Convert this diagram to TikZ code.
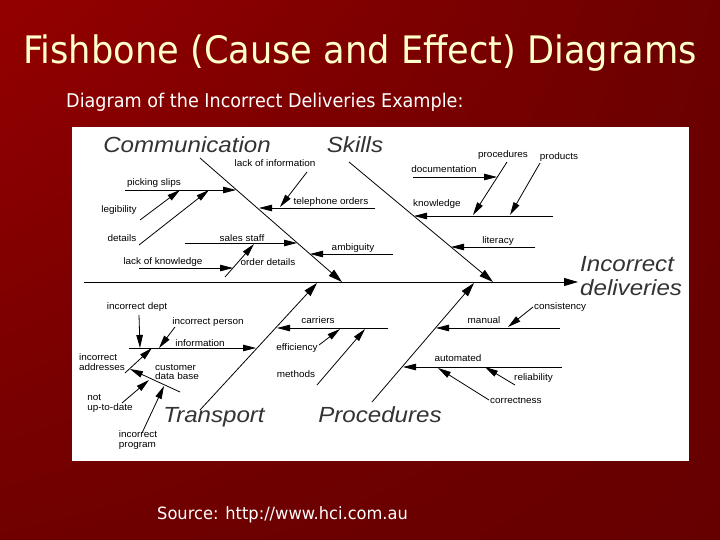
\documentclass[tikz,border=0pt]{standalone}
\usepackage{fontspec}
\setmainfont{Liberation Sans}
\newfontfamily\tahoma[FakeStretch=0.93]{DejaVu Sans}
\newfontfamily\tahomab[FakeStretch=0.96]{DejaVu Sans}
\newfontfamily\labfont[FakeStretch=1.05]{Liberation Sans}
\newfontfamily\catfont[FakeStretch=1.1]{Liberation Sans}
\usetikzlibrary{arrows.meta,shadings}
\definecolor{bgA}{RGB}{148,0,0}
\definecolor{bgB}{RGB}{108,0,0}
\definecolor{bgC}{RGB}{112,0,0}
\definecolor{bgD}{RGB}{102,0,0}
\definecolor{titlecol}{RGB}{255,255,204}
\begin{document}
\begin{tikzpicture}[x=1bp,y=-1bp,
  lbl/.style={font=\labfont\fontsize{9.5}{10}\selectfont, inner sep=0pt, align=left},
  cat/.style={font=\catfont\fontsize{22}{24}\selectfont\itshape, inner sep=0pt, text=black!80, align=left},
  bone/.style={line width=0.8bp, -{Triangle[length=14bp,width=8bp]}},
  arr/.style={line width=0.8bp, -{Triangle[length=13bp,width=6.5bp]}},
]
\useasboundingbox (0,0) rectangle (720,540);
\shade[upper left=bgA, upper right=bgB, lower left=bgC, lower right=bgD] (0,0) rectangle (720,540);

\node[font=\tahoma\fontsize{38}{40}\selectfont, text=titlecol, inner sep=0pt] (title) at (360,53) {Fishbone (Cause and Effect) Diagrams};
\node[font=\tahoma\fontsize{19}{21}\selectfont, text=white, anchor=west, inner sep=0pt] (sub) at (66,102) {Diagram of the Incorrect Deliveries Example:};
\node[fill=white, anchor=north west, minimum width=617bp, minimum height=334bp, inner sep=0pt] (panel) at (72,127) {};
\node[font=\tahomab\fontsize{17}{18}\selectfont, text=white, anchor=west, inner sep=0pt] (src) at (157,515) {Source: http://www.hci.com.au};

% spine and main bones
\coordinate (sp0) at (84,282); \coordinate (sp1) at (578,282);
\draw[bone] (sp0) -- (sp1);
\coordinate (cb0) at (200,158); \coordinate (cb1) at (342,282);
\coordinate (sb0) at (349,162); \coordinate (sb1) at (493,282);
\coordinate (tb0) at (200,410); \coordinate (tb1) at (317,283);
\coordinate (pb0) at (372,402); \coordinate (pb1) at (474,283);
\draw[bone] (cb0) -- (cb1);
\draw[bone] (sb0) -- (sb1);
\draw[bone] (tb0) -- (tb1);
\draw[bone] (pb0) -- (pb1);

% category labels
\node[cat] (communication) at (187,145) {Communication};
\node[cat] (skills) at (355,145) {Skills};
\node[cat] (transport) at (214,417) {Transport};
\node[cat] (procedures) at (380,415) {Procedures};
\node[cat, anchor=north west] (effect) at (580,256) {Incorrect\\deliveries};

% Communication causes
\node[lbl] (tpick) at (154,183) {picking slips};
\coordinate (a1) at (125,190); \coordinate (a2) at (236,190);
\draw[arr] (a1) -- (a2);
\node[lbl] (tleg) at (119,210) {legibility};
\coordinate (a3) at (140,220); \coordinate (a4) at (180,190);
\draw[arr] (a3) -- (a4);
\node[lbl] (tdet) at (122,238) {details};
\coordinate (a5) at (139,245); \coordinate (a6) at (209,190);
\draw[arr] (a5) -- (a6);
\node[lbl] (tlack) at (275,163) {lack of information};
\coordinate (a7) at (307,172); \coordinate (a8) at (280,207);
\draw[arr] (a7) -- (a8);
\node[lbl] (ttel) at (331,202) {telephone orders};
\coordinate (a9) at (375,208); \coordinate (a10) at (259,208);
\draw[arr] (a9) -- (a10);
\node[lbl] (tsales) at (242,238) {sales staff};
\coordinate (a11) at (185,243); \coordinate (a12) at (297,243);
\draw[arr] (a11) -- (a12);
\node[lbl] (tamb) at (353,248) {ambiguity};
\coordinate (a13) at (393,254); \coordinate (a14) at (310,254);
\draw[arr] (a13) -- (a14);
\node[lbl] (tlok) at (163,262) {lack of knowledge};
\coordinate (a15) at (139,268); \coordinate (a16) at (233,268);
\draw[arr] (a15) -- (a16);
\node[lbl] (tord) at (268,262) {order details};
\coordinate (a17) at (225,277); \coordinate (a18) at (254,244);
\draw[arr] (a17) -- (a18);

% Skills causes
\node[lbl] (tdoc) at (444,169) {documentation};
\coordinate (b1) at (413,177); \coordinate (b2) at (497,177);
\draw[arr] (b1) -- (b2);
\node[lbl] (tproc) at (503,155) {procedures};
\coordinate (b3) at (507,162); \coordinate (b4) at (473,215);
\draw[arr] (b3) -- (b4);
\node[lbl] (tprod) at (559,157) {products};
\coordinate (b5) at (540,163); \coordinate (b6) at (510,215);
\draw[arr] (b5) -- (b6);
\node[lbl] (tknow) at (437,204) {knowledge};
\coordinate (b7) at (553,216); \coordinate (b8) at (414,216);
\draw[arr] (b7) -- (b8);
\node[lbl] (tlit) at (498,241) {literacy};
\coordinate (b9) at (535,247); \coordinate (b10) at (451,247);
\draw[arr] (b9) -- (b10);

% Transport causes
\node[lbl] (tdept) at (137,307) {incorrect dept};
\coordinate (c1) at (139,315); \coordinate (c2) at (140,348);
\draw[arr] (c1) -- (c2);
\node[lbl] (tpers) at (208,322) {incorrect person};
\coordinate (c3) at (175,327); \coordinate (c4) at (159,348);
\draw[arr] (c3) -- (c4);
\node[lbl] (tinfo) at (200,343) {information};
\coordinate (c5) at (129,348); \coordinate (c6) at (256,348);
\draw[arr] (c5) -- (c6);
\node[lbl] (taddr) at (102,362) {incorrect\\addresses};
\coordinate (c7) at (125,373); \coordinate (c8) at (152,348);
\draw[arr] (c7) -- (c8);
\node[lbl] (tcust) at (177,372) {customer\\data base};
\coordinate (c9) at (180,392); \coordinate (c10) at (130,369);
\draw[arr] (c9) -- (c10);
\node[lbl] (tnot) at (110,403) {not\\up-to-date};
\coordinate (c11) at (122,403); \coordinate (c12) at (149,380);
\draw[arr] (c11) -- (c12);
\node[lbl] (tprog) at (138,440) {incorrect\\program};
\coordinate (c13) at (142,433); \coordinate (c14) at (164,386);
\draw[arr] (c13) -- (c14);

% Procedures-side causes
\node[lbl] (tcarr) at (318,320) {carriers};
\coordinate (d1) at (388,328); \coordinate (d2) at (277,328);
\draw[arr] (d1) -- (d2);
\node[lbl] (teff) at (297,348) {efficiency};
\coordinate (d3) at (319,345); \coordinate (d4) at (340,329);
\draw[arr] (d3) -- (d4);
\node[lbl] (tmeth) at (296,374) {methods};
\coordinate (d5) at (317,385); \coordinate (d6) at (365,329);
\draw[arr] (d5) -- (d6);
\node[lbl] (tman) at (484,320) {manual};
\coordinate (d7) at (560,328); \coordinate (d8) at (436,328);
\draw[arr] (d7) -- (d8);
\node[lbl, anchor=west] (tcons) at (534,307) {consistency};
\coordinate (d9) at (533,307); \coordinate (d10) at (508,327);
\draw[arr] (d9) -- (d10);
\node[lbl] (tauto) at (458,358) {automated};
\coordinate (d11) at (562,367); \coordinate (d12) at (403,367);
\draw[arr] (d11) -- (d12);
\node[lbl, anchor=west] (trel) at (514,378) {reliability};
\coordinate (d13) at (515,385); \coordinate (d14) at (485,367);
\draw[arr] (d13) -- (d14);
\node[lbl, anchor=west] (tcorr) at (490,400) {correctness};
\coordinate (d15) at (489,400); \coordinate (d16) at (438,368);
\draw[arr] (d15) -- (d16);
\end{tikzpicture}
\end{document}
